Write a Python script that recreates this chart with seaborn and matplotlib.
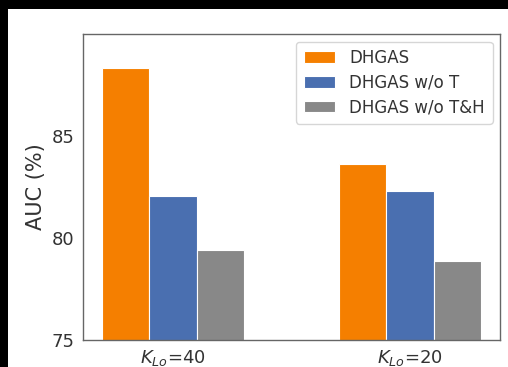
import pandas as pd
import matplotlib.pyplot as plt
import matplotlib.patches as mpatches
import seaborn as sns

settings = ['$K_{Lo}$=40', '$K_{Lo}$=20']
methods = ['DHGAS', 'DHGAS w/o T', 'DHGAS w/o T&H']
auc_dhgas = [88.35, 83.65]
auc_wo_t = [82.05, 82.3]
auc_wo_th = [79.4, 78.85]
colors = ['#f57f00', '#4a6fb0', '#888888']

rows = []
for m, vals in zip(methods, [auc_dhgas, auc_wo_t, auc_wo_th]):
    for s, v in zip(settings, vals):
        rows.append({'setting': s, 'method': m, 'auc': v})
df = pd.DataFrame(rows)

sns.set_style('white')
plt.rcParams['font.family'] = ['DejaVu Sans']

fig = plt.figure(figsize=(5.08, 3.67), dpi=100, facecolor='black')
# white page area of the screenshot
page = mpatches.Rectangle((8 / 508, 0), 1, 1 - 9 / 367, transform=fig.transFigure,
                          facecolor='white', edgecolor='none', zorder=-10)
fig.add_artist(page)
ax = fig.add_axes([83 / 508, 27 / 367, 417 / 508, 306 / 367])
ax.set_zorder(1)

sns.barplot(data=df, x='setting', y='auc', hue='method', palette=colors, width=0.6,
            saturation=1, edgecolor='white', linewidth=0.8, ax=ax)

ax.set_ylim(75, 90)
ax.set_xlim(-0.38, 1.38)
ax.set_yticks([75, 80, 85])
ax.set_xlabel('')
ax.set_ylabel('AUC (%)', fontsize=15, color='#333333')
ax.tick_params(axis='both', labelsize=13, labelcolor='#333333', length=0, pad=6)
for sp in ax.spines.values():
    sp.set_color('#666666')
    sp.set_linewidth(1.0)

leg = ax.legend(loc='upper right', fontsize=12, frameon=True, borderpad=0.45,
                handlelength=1.9, handletextpad=0.85, labelspacing=0.4, borderaxespad=0.45)
for t in leg.get_texts():
    t.set_color('#333333')

fig.savefig('out.png', dpi=100, facecolor=fig.get_facecolor())
